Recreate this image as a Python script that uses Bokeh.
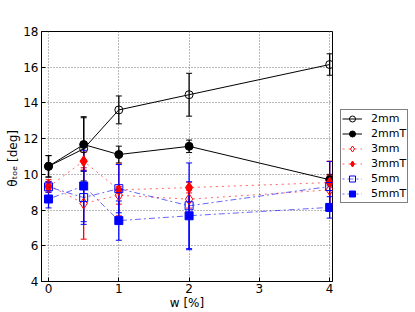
from bokeh.plotting import figure
from bokeh.layouts import row
from bokeh.models import ColumnDataSource, Whisker, TeeHead, Legend, LegendItem, FixedTicker, Range1d
from bokeh.embed import file_html
from bokeh.resources import INLINE

# ---- data ----
w = [0, 0.5, 1, 2, 4]
labels = ["2mm", "2mmT", "3mm", "3mmT", "5mm", "5mmT"]
theta_2mm = [10.45, 11.43, 13.61, 14.46, 16.15]
err_2mm = [0.6, 1.8, 0.78, 1.2, 0.6]
theta_2mmT = [10.45, 11.67, 11.11, 11.57, 9.7]
err_2mmT = [0.6, 1.5, 0.47, 0.35, 0.3]
theta_3mm = [9.4, 8.37, 8.83, 8.61, 9.13]
err_3mm = [0.3, 2.0, 0.5, 0.5, 0.8]
theta_3mmT = [9.3, 10.74, 9.13, 9.26, 9.54]
err_3mmT = [0.3, 0.5, 1.45, 0.3, 1.2]
theta_5mm = [9.3, 8.7, 9.2, 8.24, 9.32]
err_5mm = [0.3, 1.5, 1.35, 2.4, 1.4]
theta_5mmT = [8.62, 9.35, 7.41, 7.68, 8.15]
err_5mmT = [0.5, 2.0, 1.1, 1.9, 0.6]
x_ticks = [0, 1, 2, 3, 4]
y_ticks = [4, 6, 8, 10, 12, 14, 16, 18]

series = [
    (theta_2mm, err_2mm, "black", "solid", "circle", False),
    (theta_2mmT, err_2mmT, "black", "solid", "circle", True),
    (theta_3mm, err_3mm, "red", "dotted", "diamond", False),
    (theta_3mmT, err_3mmT, "red", "dotted", "diamond", True),
    (theta_5mm, err_5mm, "blue", "2 3 6 3", "square", False),
    (theta_5mmT, err_5mmT, "blue", "2 3 6 3", "square", True),
]

p = figure(width=333, height=312, output_backend="svg", toolbar_location=None,
           x_range=Range1d(-0.1, 4.04), y_range=Range1d(4, 18),
           min_border_left=41, min_border_top=31, min_border_right=1, min_border_bottom=29)
p.outline_line_color = "black"
p.outline_line_width = 1
p.background_fill_color = "white"

for ax in (p.xaxis[0], p.yaxis[0]):
    ax.major_tick_in = 4
    ax.major_tick_out = 0
    ax.minor_tick_line_color = None
    ax.major_label_text_font = "DejaVu Sans"
    ax.major_label_text_font_size = "12px"
    ax.major_label_text_color = "black"
    ax.axis_label_text_font = "DejaVu Sans"
    ax.axis_label_text_font_size = "12px"
    ax.axis_label_text_font_style = "normal"
    ax.axis_label_text_color = "black"
    ax.axis_line_color = "black"
    ax.major_label_standoff = 2
    ax.axis_label_standoff = 0
p.yaxis.major_label_standoff = 3

p.xaxis.ticker = FixedTicker(ticks=x_ticks)
p.yaxis.ticker = FixedTicker(ticks=y_ticks)
p.xaxis.axis_label = "w [%]"
p.yaxis.axis_label = "θₜₒₑ  [deg]"

for g in (p.xgrid[0], p.ygrid[0]):
    g.grid_line_color = "#777777"
    g.grid_line_dash = "1 2"
    g.grid_line_width = 1
p.xgrid.ticker = FixedTicker(ticks=x_ticks)
p.ygrid.ticker = FixedTicker(ticks=y_ticks)

# legend panel as a separate, axis-less figure
lf = figure(width=82, height=312, output_backend="svg", toolbar_location=None,
            x_axis_type=None, y_axis_type=None, x_range=Range1d(0, 1), y_range=Range1d(0, 1),
            min_border=0)
lf.outline_line_color = None
lf.grid.visible = False

items = []
for (vals, errs, color, dash, marker, filled), lab in zip(series, labels):
    src = ColumnDataSource(dict(
        x=w, y=vals,
        upper=[v + e for v, e in zip(vals, errs)],
        lower=[v - e for v, e in zip(vals, errs)],
    ))
    p.add_layout(Whisker(base="x", upper="upper", lower="lower", source=src,
                         line_color=color, line_width=1.3,
                         upper_head=TeeHead(size=6, line_color=color, line_width=1),
                         lower_head=TeeHead(size=6, line_color=color, line_width=1)))
    alpha = 1.0 if color == "black" else 0.6
    size = 8 if marker != "diamond" else 11
    p.line("x", "y", source=src, line_color=color, line_dash=dash,
           line_width=1, line_alpha=alpha)
    p.scatter("x", "y", source=src, marker=marker, size=size,
              line_color=color, line_width=1,
              fill_color=color if filled else None)
    # legend proxies: a single point outside the legend panel's visible range
    proxy = ColumnDataSource(dict(x=[5, 6], y=[5, 5]))
    ln = lf.line("x", "y", source=proxy, line_color=color, line_dash=dash,
                 line_width=1, line_alpha=alpha)
    sc = lf.scatter("x", "y", source=proxy, marker=marker, size=size - 1,
                    line_color=color, line_width=1,
                    fill_color=color if filled else None)
    items.append(LegendItem(label=lab, renderers=[ln, sc]))

legend = Legend(items=items, location="center_left", margin=7, padding=1,
                spacing=0, glyph_width=20, glyph_height=15, label_height=15,
                label_standoff=9, label_text_font="DejaVu Sans",
                label_text_font_size="11px", label_text_color="black",
                border_line_color="black",
                border_line_width=1, background_fill_alpha=1)
lf.add_layout(legend, "center")

layout = row(p, lf, spacing=0)
open("out.html", "w").write(file_html(layout, INLINE))
